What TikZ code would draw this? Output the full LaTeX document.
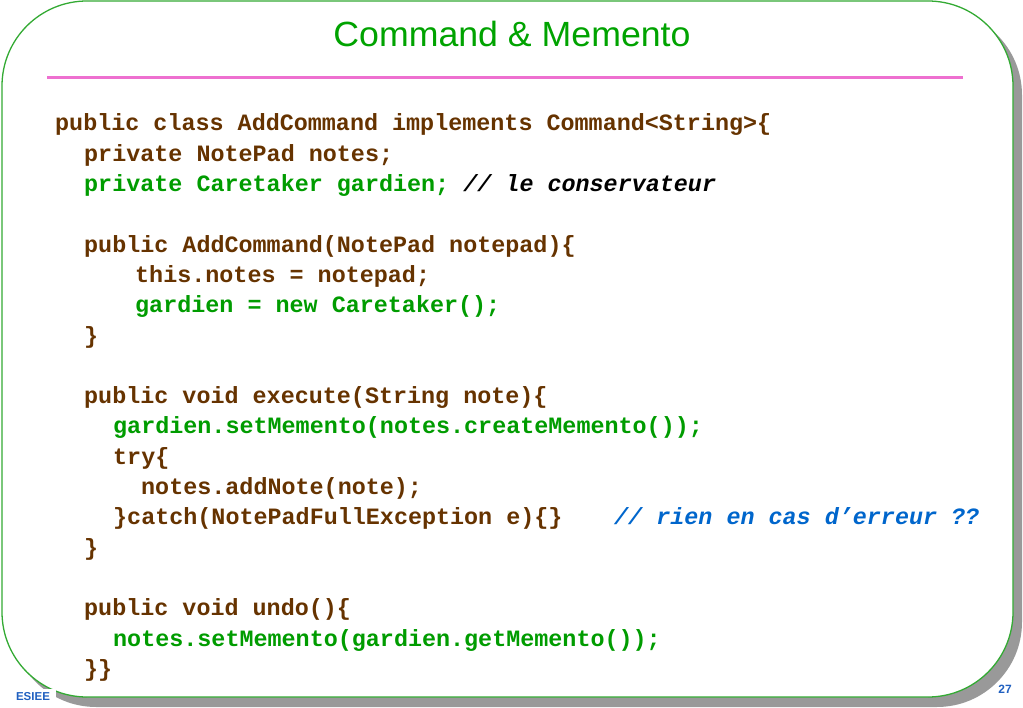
\documentclass[tikz,border=0pt]{standalone}
\usepackage{fontspec}
\setmainfont{Liberation Sans}
\newfontfamily\codefont{Liberation Mono}
\definecolor{brn}{HTML}{663300}
\definecolor{cgreen}{HTML}{009C00}
\definecolor{tgreen}{HTML}{00A300}
\definecolor{cblue}{HTML}{0066CC}
\definecolor{lblue}{HTML}{2060C0}
\definecolor{pinkline}{HTML}{EE70D0}
\definecolor{framegreen}{HTML}{33AA33}
\definecolor{shadowgray}{HTML}{999999}
\tikzset{
  codeline/.style={anchor=base west, inner sep=0pt, font=\codefont\bfseries\fontsize{23.4}{28}\selectfont, text=brn},
  greenline/.style={codeline, text=cgreen},
  bluecomment/.style={codeline, text=cblue, font=\codefont\bfseries\itshape\fontsize{23.4}{28}\selectfont},
  smalllabel/.style={inner sep=0pt, text=lblue, font=\bfseries\fontsize{11.5}{13}\selectfont}
}
\begin{document}
\begin{tikzpicture}[x=1pt,y=1pt]
\useasboundingbox (0,0) rectangle (1023,-708);
% shadow and frame
\fill[shadowgray, rounded corners=85pt] (11,-10) rectangle (1022,-707);
\draw[framegreen, line width=1.3pt, fill=white, rounded corners=85pt] (2,-1) rectangle (1013,-697);
% title
\node[anchor=base, inner sep=0pt, text=tgreen, font=\fontsize{35}{40}\selectfont, xscale=1.02] (title) at (512,-47) {Command \& Memento};
\draw[pinkline, line width=3pt] (47,-78) -- (963,-78);
% code
\node[codeline] (l1) at (55,-131) {public class AddCommand implements Command<String>\{};
\node[codeline] (l2) at (84,-161.3) {private NotePad notes;};
\node[greenline] (l3) at (84,-191.6) {private Caretaker gardien;\ {\color{black}\itshape // le conservateur}};
\node[codeline] (l5) at (84,-252.2) {public AddCommand(NotePad notepad)\{};
\node[codeline] (l6) at (135,-282.5) {this.notes = notepad;};
\node[greenline] (l7) at (135,-312.8) {gardien = new Caretaker();};
\node[codeline] (l8) at (84,-343.1) {\}};
\node[codeline] (l10) at (84,-403.7) {public void execute(String note)\{};
\node[greenline] (l11) at (113,-434) {gardien.setMemento(notes.createMemento());};
\node[codeline] (l12) at (113,-464.3) {try\{};
\node[codeline] (l13) at (141,-494.6) {notes.addNote(note);};
\node[codeline] (l14) at (113,-524.9) {\}catch(NotePadFullException e)\{\}};
\node[bluecomment] (c14) at (614,-524.9) {// rien en cas d’erreur ??};
\node[codeline] (l15) at (84,-555.2) {\}};
\node[codeline] (l17) at (84,-615.8) {public void undo()\{};
\node[greenline] (l18) at (113,-646.1) {notes.setMemento(gardien.getMemento());};
\node[codeline] (l19) at (84,-676.4) {\}\}};
% footer
\node[smalllabel, fill=white, inner xsep=6pt, inner ysep=4pt] (esiee) at (33,-697) {ESIEE};
\node[smalllabel, font=\bfseries\fontsize{12}{14}\selectfont] (page) at (1005,-689) {27};
\end{tikzpicture}
\end{document}
